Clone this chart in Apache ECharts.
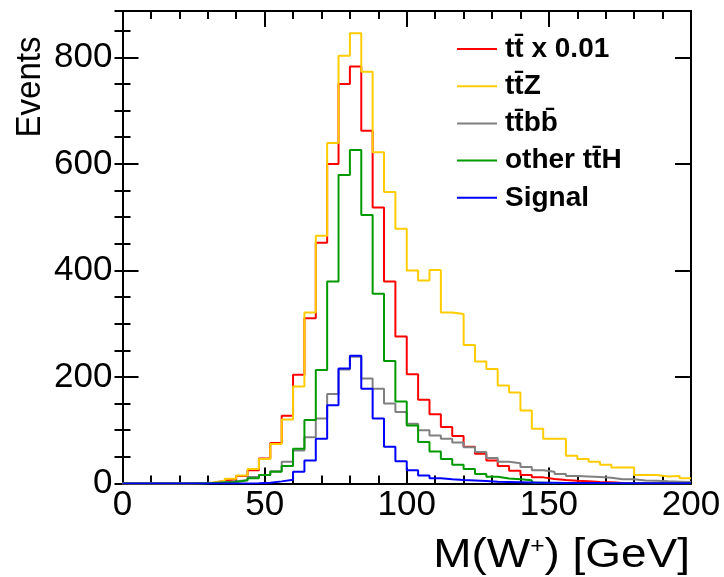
<!DOCTYPE html>
<html>
<head>
<meta charset="utf-8">
<script src="https://cdn.jsdelivr.net/npm/echarts@6/dist/echarts.min.js"></script>
<style>
html,body{margin:0;padding:0;background:#fff;}
#chart{width:724px;height:577px;}
</style>
</head>
<body>
<div id="chart"></div>
<script>
// Histogram: 50 bins of 4 GeV from 0 to 200
const binWidth = 4;
const xTickLabels = ['0', '50', '100', '150', '200'];
const yTickLabels = ['0', '200', '400', '600', '800'];
const seriesNames = ['tt\u0304 x 0.01', 'tt\u0304Z', 'tt\u0304bb\u0304', 'other tt\u0304H', 'Signal'];

const ttbar = [0,0,0,0,0,0,1,1.5,5,8,14,25,47,76,127,204,310,452,600,750,783,662,518,379,276,205,157,130,106,89,69,56,43,33,24,16,11.5,8.5,6.5,5,4,3,2.5,1,0.5,0.5,0.5,0.5,0.5,0.5];
const ttZ = [0,0,0,0,0,0,0.5,2,5,9,15,27,46,74,120,182,321,465,639,803,845,773,622,547,478,400,381,401,321,318,260,229,215,184,171,137,103,84,84,52,46,41,35,30,30,16,16,13,14,10];
const ttbb = [0,0,0,0,0,0,0.5,1,2.5,4,6,12,16,23,41,62,87,122,168,214,238,197,178,150,134,112,100,90,84,77,68,59,48,41,38,31,25,22,18,14,13,12,11,8,8,5.5,5,4,3.5,3];
const otherttH = [0,0,0,0,0,0,0,1,2,3,6,10,16,22,33,65,119,213,379,579,626,504,356,230,154,109,78,60,46,35,27,18,12.5,9.5,8,6,1.5,1,0.5,0.5,0,0,0,0,0,0,0,0,0,0];
const signal = [0,0,0,0,0,0,0,0,0,0,0,0.5,1.5,4,7,22,43,84,147,216,240,178,122,69,42,25,15,10,8,6.5,5.5,4.5,3.5,3,2.5,2,1.5,1.5,1,1,1,1,0.5,0.5,0.5,0.5,0.5,0.5,0.5,0.5];

const colors = ['#ff0000', '#ffcc00', '#808080', '#009a00', '#0000ff'];
const values = [ttbar, ttZ, ttbb, otherttH, signal];

function toSteps(vals) {
  const pts = [];
  for (let k = 0; k < vals.length; k++) pts.push([k * binWidth, vals[k]]);
  pts.push([vals.length * binWidth, vals[vals.length - 1]]);
  return pts;
}

const drawOrder = [1, 0, 2, 3, 4];
const series = drawOrder.map(i => ({
  name: seriesNames[i],
  type: 'line',
  step: 'end',
  showSymbol: false,
  symbol: 'none',
  data: toSteps(values[i]),
  lineStyle: { color: colors[i], width: 2 },
  itemStyle: { color: colors[i] },
  xAxisIndex: 0, yAxisIndex: 0,
  z: 3 + i,
  animation: false
}));

const font = 'Liberation Sans, Arial, Helvetica, sans-serif';
const tickColor = '#000';
const yMax = 887;

function yLabel(v) {
  if (Math.abs(v / 200 - Math.round(v / 200)) > 1e-6) return '';
  return yTickLabels[Math.round(v / 200)] || '';
}

const chart = echarts.init(document.getElementById('chart'), null, { renderer: 'canvas' });
chart.setOption({
  animation: false,
  backgroundColor: '#fff',
  grid: { left: 122.5, right: 33, top: 11, bottom: 93.5, containLabel: false },
  legend: {
    data: seriesNames.map((n, i) => ({ name: n, icon: 'rect', itemStyle: { color: colors[i] } })),
    orient: 'vertical',
    left: 452, top: 30,
    itemWidth: 40, itemHeight: 2, itemGap: 9.2,
    selectedMode: false,
    textStyle: { fontFamily: font, fontWeight: 'bold', fontSize: 28, color: '#000', lineHeight: 28, padding: [0, 0, 0, 3] }
  },
  xAxis: [
    {
      type: 'value', min: 0, max: 200, interval: 50, position: 'bottom',
      axisLine: { show: true, onZero: false, lineStyle: { color: '#000', width: 2 } },
      axisTick: { show: true, inside: true, length: 16, lineStyle: { color: tickColor, width: 2 } },
      minorTick: { show: true, splitNumber: 5, length: 8, lineStyle: { color: tickColor, width: 2 } },
      axisLabel: { show: true, margin: 4, fontFamily: font, fontSize: 35, color: '#000',
        formatter: v => xTickLabels[Math.round(v / 50)] },
      splitLine: { show: false }
    },
    {
      type: 'value', min: 0, max: 200, interval: 50, position: 'top',
      axisLine: { show: true, onZero: false, lineStyle: { color: '#000', width: 2 } },
      axisTick: { show: true, inside: true, length: 16, lineStyle: { color: tickColor, width: 2 } },
      minorTick: { show: true, splitNumber: 5, length: 8, lineStyle: { color: tickColor, width: 2 } },
      axisLabel: { show: false }, splitLine: { show: false }
    }
  ],
  yAxis: [
    {
      type: 'value', min: 0, max: yMax, interval: 200, position: 'left',
      axisLine: { show: true, onZero: false, lineStyle: { color: '#000', width: 2 } },
      axisTick: { show: true, inside: true, length: 16, lineStyle: { color: tickColor, width: 2 } },
      axisLabel: { show: true, margin: 10, showMaxLabel: false, fontFamily: font, fontSize: 35, color: '#000',
        formatter: yLabel },
      splitLine: { show: false }
    },
    {
      type: 'value', min: 0, max: yMax, interval: 50, position: 'left',
      axisLine: { show: false },
      axisTick: { show: true, inside: true, length: 8, lineStyle: { color: tickColor, width: 2 } },
      axisLabel: { show: false }, splitLine: { show: false }
    },
    {
      type: 'value', min: 0, max: yMax, interval: 200, position: 'right',
      axisLine: { show: true, onZero: false, lineStyle: { color: '#000', width: 2 } },
      axisTick: { show: true, inside: true, length: 16, lineStyle: { color: tickColor, width: 2 } },
      axisLabel: { show: false }, splitLine: { show: false }
    },
    {
      type: 'value', min: 0, max: yMax, interval: 50, position: 'right',
      axisLine: { show: false },
      axisTick: { show: true, inside: true, length: 8, lineStyle: { color: tickColor, width: 2 } },
      axisLabel: { show: false }, splitLine: { show: false }
    }
  ],
  graphic: [
    {
      type: 'text', x: 30, y: 87, rotation: Math.PI / 2, scaleY: 1.08,
      style: { text: 'Events', fontFamily: font, fontSize: 33, fill: '#000', align: 'center', verticalAlign: 'middle' }
    },
    {
      type: 'text', x: 690, y: 556, scaleX: 1.12,
      style: {
        text: 'M(W{sup|+}) [GeV]',
        fontFamily: font, fontSize: 41, fill: '#000', align: 'right', verticalAlign: 'middle',
        rich: { sup: { fontFamily: font, fontSize: 22, fill: '#000', verticalAlign: 'top', padding: [0, 0, 16, 0] } }
      }
    }
  ],
  series: series
});
</script>
</body>
</html>
